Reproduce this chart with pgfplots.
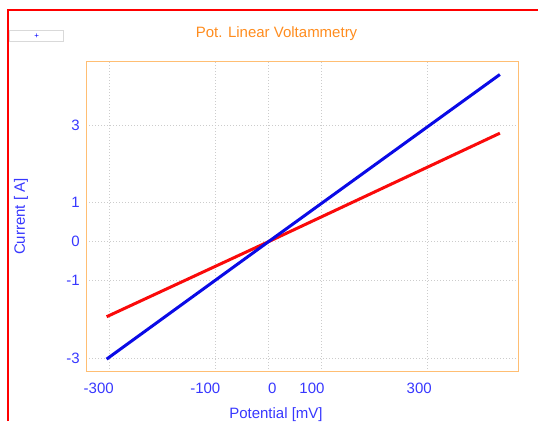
\documentclass[border=0pt]{standalone}
\usepackage{fontspec}
\setmainfont{Liberation Sans}
\usepackage{pgfplots}
\pgfplotsset{compat=1.18}
\definecolor{tickblue}{RGB}{55,55,255}
\definecolor{titleorange}{RGB}{255,140,30}
\definecolor{frameorange}{RGB}{255,190,115}
\definecolor{lineblue}{RGB}{10,10,230}
\definecolor{linered}{RGB}{250,10,10}
\newcommand{\lbl}{\fontsize{15}{18}\selectfont}
\begin{document}
\begin{tikzpicture}[x=1pt,y=1pt]
\useasboundingbox (0,0) rectangle (538,421);
\begin{axis}[
 at={(86.3pt,49.3pt)}, anchor=south west,
 scale only axis, width=432pt, height=310pt,
 xmin=-343.3, xmax=470.7, ymin=-3.344, ymax=4.629,
 xtick={-300,-100,0,100,300},
 xticklabels={{\makebox[0pt]{\kern-21.2pt -300}},{\makebox[0pt]{\kern-20.2pt -100}},{\makebox[0pt]{\kern7.6pt 0}},{\makebox[0pt]{\kern-19.2pt 100}},{\makebox[0pt]{\kern-17pt 300}}},
 ytick={-3,-1,0,1,3},
 yticklabels={-3,-1,0,1,3},
 major tick length=0pt,
 grid=major,
 grid style={gray!40, line width=0.8pt, dash pattern=on 1pt off 2pt},
 axis line style={frameorange, line width=1pt},
 tick label style={font=\lbl, color=tickblue},
 xticklabel style={anchor=base, yshift=-22pt},
 yticklabel style={anchor=east, inner sep=0pt, xshift=-6.3pt},
 label style={font=\lbl, color=tickblue},
 xlabel={Potential [mV]},
 xlabel style={at={(axis description cs:0.439,-0.1516)}, anchor=base, yshift=0.5pt},
 ylabel={Current [ A]},
 ylabel style={at={(axis description cs:-0.1419,0.5006)}, anchor=base, rotate=0},
 every axis title shift=0pt,
 title={Pot. Linear Voltammetry},
 title style={at={(axis description cs:0.4403,1.0774)}, anchor=base, font=\lbl, color=titleorange},
]
\addplot[linered, line width=3pt] coordinates {(-305,-1.93) (0,0) (436,2.79)};
\addplot[lineblue, line width=3pt] coordinates {(-305,-3.02) (0,0) (436,4.30)};
\end{axis}
\draw[red, line width=2pt] (8.3,0) -- (8.3,411) -- (538,411);
\draw[gray!30, line width=1pt] (9.3,379.7) rectangle (63.3,390.3);
\node[text=blue, font=\fontsize{8}{9}\selectfont, inner sep=0pt] at (36.7,385.3) {+};
\end{tikzpicture}
\end{document}
